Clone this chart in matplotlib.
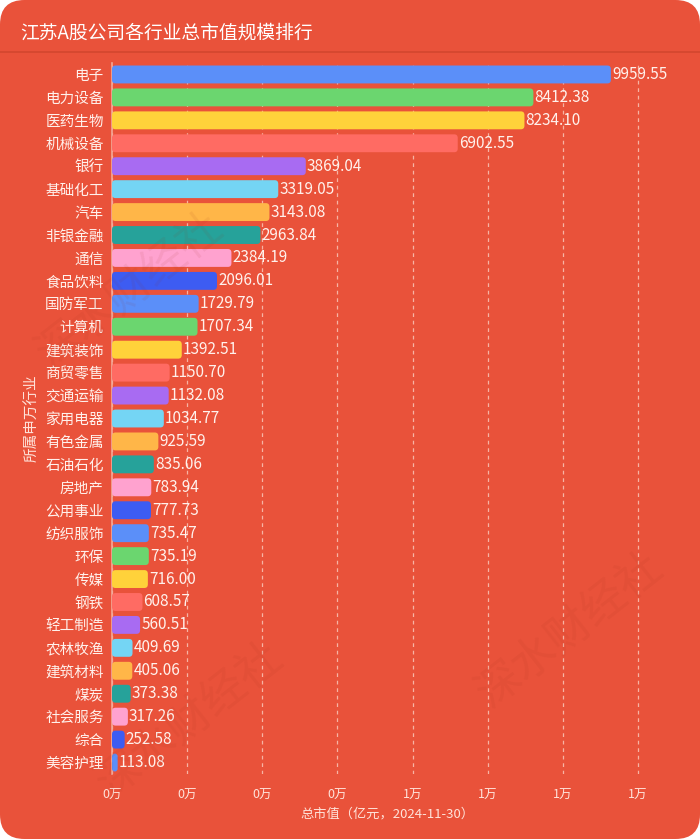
import numpy as np
import matplotlib
matplotlib.use('Agg')
import matplotlib.pyplot as plt
from matplotlib.patches import FancyBboxPatch
from matplotlib.ticker import FuncFormatter, MultipleLocator

plt.rcParams['font.family'] = ['Noto Sans CJK SC', 'DejaVu Sans']

# 数据
industries = ['电子', '电力设备', '医药生物', '机械设备', '银行', '基础化工', '汽车', '非银金融',
              '通信', '食品饮料', '国防军工', '计算机', '建筑装饰', '商贸零售', '交通运输',
              '家用电器', '有色金属', '石油石化', '房地产', '公用事业', '纺织服饰', '环保',
              '传媒', '钢铁', '轻工制造', '农林牧渔', '建筑材料', '煤炭', '社会服务', '综合',
              '美容护理']
values = [9959.55, 8412.38, 8234.10, 6902.55, 3869.04, 3319.05, 3143.08, 2963.84,
          2384.19, 2096.01, 1729.79, 1707.34, 1392.51, 1150.70, 1132.08,
          1034.77, 925.59, 835.06, 783.94, 777.73, 735.47, 735.19,
          716.00, 608.57, 560.51, 409.69, 405.06, 373.38, 317.26, 252.58,
          113.08]
palette = ['#5B8FF9', '#6BD66F', '#FFD23A', '#FF6B63', '#A86BF2',
           '#74D5F4', '#FFB648', '#26A29A', '#FFA2CF', '#3D5CF2']

bg = '#E9523A'
fig = plt.figure(figsize=(7, 8.39), dpi=100)
fig.patch.set_facecolor('white')
card = FancyBboxPatch((0, 0), 1, 1, boxstyle='round,pad=0,rounding_size=0.035',
                      mutation_aspect=700 / 839, transform=fig.transFigure,
                      facecolor=bg, edgecolor='none', zorder=-10)
fig.patches.append(card)

# 标题和分隔线
fig.text(20 / 700, 1 - 33 / 839, '江苏A股公司各行业总市值规模排行', color='white',
         fontsize=13.5, va='center', ha='left')
fig.add_artist(plt.Line2D([0, 1], [1 - 52 / 839] * 2, transform=fig.transFigure,
                          color='#D3462F', lw=1.2))

# 水印
for (wx, wy) in [(130, 290), (570, 630), (190, 720)]:
    fig.text(wx / 700, 1 - wy / 839, '深水财经社', fontsize=32, color='#9A2A1A', alpha=0.08,
             rotation=38, ha='center', va='center')

ax = fig.add_axes([112 / 700, 1 - 774 / 839, 551 / 700, 711 / 839])
ax.set_facecolor('none')

n = len(industries)
ypos = np.arange(n)
bh = 0.78
bars = ax.barh(ypos, values, height=bh, color='none')
ax.set_xlim(0, 11000)
ax.set_ylim(n - 0.5, -0.5)

# 圆角柱
rx = 70
ry = 0.16
for i, b in enumerate(bars):
    w = b.get_width()
    r = min(rx, w / 2)
    p = FancyBboxPatch((b.get_x(), b.get_y()), w, b.get_height(),
                       boxstyle=f'round,pad=0,rounding_size={r}',
                       mutation_aspect=ry / rx,
                       facecolor=palette[i % len(palette)], edgecolor='none', zorder=3)
    ax.add_patch(p)
    b.remove()
    ax.text(w + 20, ypos[i], f'{values[i]:.2f}', color='#FFF1EC', fontsize=11,
            va='center', ha='left', zorder=4)

ax.set_yticks(ypos)
ax.set_yticklabels(industries, color='#FFF1EC', fontsize=10.5)
ax.xaxis.set_major_locator(MultipleLocator(1500))
ax.xaxis.set_major_formatter(FuncFormatter(lambda v, p: f'{v / 10000:.0f}万'))
ax.tick_params(axis='x', colors='#FFE3DA', labelsize=9, length=0, pad=11)
ax.tick_params(axis='y', length=0, pad=6)
ax.grid(axis='x', color='#F7B3A3', linestyle=(0, (3, 3)), lw=0.9)
ax.set_axisbelow(True)
for s in ['top', 'right', 'bottom']:
    ax.spines[s].set_visible(False)
ax.spines['left'].set_color('#F4A897')
ax.spines['left'].set_linewidth(1.2)
ax.set_xlabel('总市值（亿元，2024-11-30）', color='#FFE3DA', fontsize=9.5, labelpad=4)
ax.set_ylabel('所属申万行业', color='#FFE3DA', fontsize=10.5, labelpad=4)

fig.savefig('out.png', dpi=100, facecolor=fig.get_facecolor())
